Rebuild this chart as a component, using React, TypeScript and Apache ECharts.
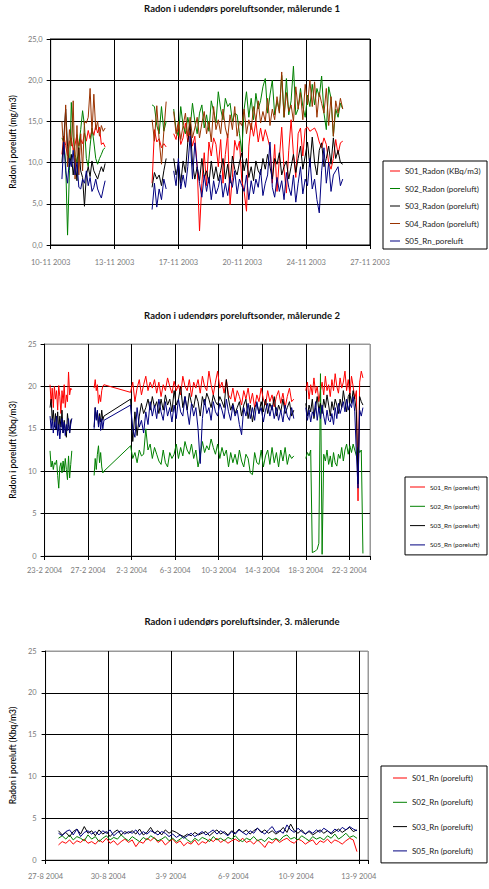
import React, { useEffect, useRef } from 'react';
import * as echarts from 'echarts';

const FONT = 'Lato, "Open Sans", "DejaVu Sans", sans-serif';

const RED = '#ff0000';
const GREEN = '#008000';
const BLACK = '#000000';
const BROWN = '#993300';
const NAVY = '#000080';

// ---------------- Chart 1 ----------------
const c1Title = 'Radon i udendørs poreluftsonder, målerunde 1';
const c1YName = 'Radon i poreluft (mg/m3)';
const c1XLabels = ['10-11 2003', '13-11 2003', '17-11 2003', '20-11 2003', '24-11 2003', '27-11 2003'];
const c1Names = ['S01_Radon (KBq/m3)', 'S02_Radon (poreluft)', 'S03_Radon (poreluft)', 'S04_Radon (poreluft)', 'S05_Rn_poreluft'];
// measurement runs: [first time (days after 10-11 2003), sampling step (days), joined to next run]
const c1Runs: [number, number, boolean][] = [[0.6, 0.1, false], [5.4, 0.125, false], [6.55, 0.125, false]];
const c1S01 = [
  [11.0, 13.2, 12.1, 10.8, 12.5, 13.0, 11.5, 12.2, 13.4, 12.0, 12.8, 12.3, 13.6, 12.6, 13.9, 12.9, 14.1, 13.3, 14.5, 13.6, 14.3, 12.2, 12.4, 11.9],
  [7.5, 14.0, 12.5, 12.9, 11.8, 12.3, 11.9],
  [13.5, 12.8, 14.6, 12.2, 13.0, 14.8, 12.5, 13.8, 12.0, 13.2,
    9.5, 1.7, 7.5, 11.2, 7.2, 12.5, 10.8, 13.0, 12.2, 9.5,
    12.8, 7.5, 11.0, 13.5, 4.9, 8.2, 12.7, 11.5, 12.6, 7.8,
    6.5, 4.1, 12.0, 14.8, 13.2, 15.0, 12.5, 14.2, 12.6, 14.0,
    13.0, 11.8, 7.5, 12.2, 6.5, 10.5, 14.3, 9.2, 6.3, 11.5,
    15.2, 11.0, 8.2, 13.5, 14.2, 10.8, 14.1, 14.3, 13.8, 14.0,
    14.2, 13.6, 12.5, 11.8, 13.0, 12.2, 10.0, 9.2, 10.5, 12.8,
    11.0, 12.4, 12.6],
];
const c1S02 = [
  [13.0, 12.5, 10.0, 1.2, 9.0, 17.3, 13.0, 11.0, 10.0, 12.0, 14.0, 16.3, 14.5, 10.5, 9.5, 12.0, 14.2, 12.5, 10.5, 9.8, 10.5, 11.0, 11.6, 11.8],
  [17.0, 16.8, 14.5, 13.5, 16.8, 13.8, 15.0],
  [16.5, 14.0, 13.2, 16.8, 14.5, 13.5, 15.5, 14.2, 17.2, 15.0,
    13.5, 16.0, 17.0, 14.2, 15.8, 13.8, 17.5, 16.2, 14.8, 18.6,
    16.5, 15.2, 17.8, 16.8, 17.2, 15.0, 16.0, 15.8, 13.5, 11.3,
    16.5, 18.6, 15.5, 17.8, 15.2, 18.4, 16.5, 17.5, 19.2, 20.2,
    16.0, 18.2, 20.0, 15.8, 17.5, 16.2, 20.6, 15.5, 20.2, 15.8,
    17.5, 21.7, 15.8, 16.5, 19.0, 16.8, 15.5, 18.2, 16.8, 19.5,
    17.0, 19.0, 18.0, 20.5, 16.0, 14.0, 19.2, 17.8, 13.2, 16.5,
    15.5, 17.2, 16.5],
];
const c1S03 = [
  [10.0, 13.0, 16.5, 12.0, 9.5, 11.0, 8.5, 10.5, 7.8, 11.8, 9.0, 8.2, 4.7, 8.5, 9.5, 8.3, 10.2, 9.0, 8.5, 8.0, 8.8, 9.5, 8.9, 9.9],
  [7.0, 8.8, 8.0, 8.5, 7.2, 9.0, 10.5],
  [10.5, 8.5, 9.8, 7.5, 10.2, 8.8, 12.5, 14.7, 10.0, 8.0,
    9.5, 7.8, 10.5, 8.2, 9.0, 7.5, 10.2, 8.0, 9.5, 7.8,
    9.0, 10.5, 8.0, 9.8, 7.5, 10.8, 9.2, 8.5, 10.0, 11.2,
    9.0, 10.5, 8.2, 9.5, 7.8, 10.2, 9.0, 8.5, 10.5, 9.2,
    11.0, 9.5, 8.0, 10.5, 9.8, 11.2, 8.5, 9.5, 10.2, 8.0,
    9.5, 11.0, 8.8, 10.5, 12.0, 9.2, 10.8, 12.5, 9.5, 13.1,
    10.0, 8.5, 11.5, 12.4, 9.5, 10.5, 12.0, 9.8, 13.0, 10.5,
    11.5, 10.0, 9.8],
];
const c1S04 = [
  [15.0, 11.0, 17.0, 9.5, 14.0, 12.0, 17.5, 8.0, 14.5, 8.5, 13.5, 9.0, 15.0, 14.8, 15.5, 19.0, 13.5, 18.3, 14.0, 15.0, 13.2, 14.5, 13.8, 14.2],
  [15.2, 12.6, 16.9, 12.8, 9.8, 13.8, 17.4],
  [16.2, 13.5, 15.0, 12.8, 14.5, 16.0, 13.2, 15.5, 13.0, 14.2,
    15.5, 13.0, 14.8, 16.2, 13.5, 15.0, 12.5, 16.8, 14.0, 15.2,
    13.5, 16.5, 14.2, 13.0, 15.8, 14.0, 16.8, 13.2, 15.0, 14.5,
    16.5, 13.5, 15.2, 14.0, 16.8, 15.0, 17.5, 14.8, 16.2, 15.0,
    17.8, 14.5, 16.5, 15.2, 18.0, 16.0, 21.0, 15.5, 18.5, 16.2,
    17.0, 15.0, 19.2, 16.5, 18.5, 15.2, 19.5, 17.0, 20.0, 16.8,
    19.8, 15.5, 18.5, 17.2, 16.0, 19.0, 14.5, 18.0, 13.2, 17.5,
    16.0, 17.8, 16.5],
];
const c1S05 = [
  [8.0, 12.5, 9.0, 7.5, 10.5, 9.5, 11.5, 8.5, 10.0, 7.0, 6.8, 8.0, 7.5, 9.0, 7.2, 8.2, 6.5, 7.0, 8.0, 6.8, 6.2, 5.7, 6.8, 7.8],
  [4.3, 7.5, 4.6, 6.8, 5.5, 8.0, 6.8],
  [9.0, 7.2, 10.5, 6.8, 8.5, 7.0, 9.5, 13.2, 8.0, 12.4,
    9.5, 7.5, 5.8, 8.5, 6.5, 8.2, 5.5, 7.8, 6.2, 7.0,
    8.5, 5.8, 7.5, 6.0, 8.2, 7.0, 9.0, 6.2, 8.0, 7.2,
    6.5, 8.5, 5.5, 7.8, 6.2, 8.0, 7.0, 9.2, 6.0, 7.5,
    8.5, 12.5, 7.0, 5.8, 8.2, 6.5, 7.8, 5.5, 8.8, 7.0,
    6.0, 8.5, 5.2, 7.5, 9.5, 6.2, 8.0, 7.2, 10.5, 6.8,
    8.0, 5.5, 3.9, 9.0, 11.8, 7.5, 10.0, 6.5, 8.5, 9.0,
    9.5, 7.2, 8.0],
];

// ---------------- Chart 2 ----------------
const c2Title = 'Radon i udendørs poreluftsonder, målerunde 2';
const c2YName = 'Radon i poreluft (Kbq/m3)';
const c2XLabels = ['23-2 2004', '27-2 2004', '2-3 2004', '6-3 2004', '10-3 2004', '14-3 2004', '18-3 2004', '22-3 2004'];
const c2Names = ['S01_Rn (poreluft)', 'S02_Rn (poreluft)', 'S03_Rn (poreluft)', 'S05_Rn (poreluft)'];
// days after 23-2 2004
const c2Runs: [number, number, boolean][] = [[0.5, 0.1, false], [4.55, 0.1, true], [7.9, 0.2, false], [24.0, 0.15, false]];
const c2S01 = [
  [20.2, 18.0, 19.8, 17.5, 20.0, 18.5, 19.5, 17.2, 20.1, 18.8, 16.8, 19.5, 18.0, 20.2, 17.5, 19.0, 18.2, 21.7, 19.0, 19.8, 19.6],
  [19.8, 20.8, 19.5, 20.2, 18.0, 19.0, 18.2, 19.5, 20.0, 20.2],
  [19.3, 20.5, 18.2, 19.8, 20.8, 19.0, 20.2, 21.2, 19.5, 20.5,
    19.8, 20.8, 19.2, 20.5, 18.8, 20.2, 19.5, 21.0, 20.0, 19.2,
    20.6, 19.5, 20.2, 19.0, 21.2, 20.0, 19.5, 20.8, 18.8, 20.5,
    19.8, 20.8, 19.2, 21.2, 20.0, 19.5, 21.8, 20.2, 19.0, 20.5,
    21.8, 19.8, 20.5, 19.2, 20.8, 19.0, 18.5, 19.8, 18.2, 19.5,
    18.8, 17.8, 19.5, 18.5, 19.8, 18.0, 19.2, 17.5, 19.0, 18.2,
    19.8, 18.5, 17.8, 19.5, 18.2, 19.0, 17.6, 18.8, 19.5, 18.0,
    19.2, 17.5, 18.8, 19.8, 18.2, 18.5],
  [19.5, 20.5, 18.5, 20.2, 19.0, 21.0, 19.2, 20.0, 18.2, 19.5,
    20.5, 19.0, 21.2, 19.5, 20.2, 18.8, 20.8, 19.5, 21.5, 20.0,
    19.2, 21.0, 19.8, 20.5, 21.8, 19.5, 20.8, 19.0, 21.2, 20.0,
    18.5, 19.5, 6.5, 20.5, 21.8, 21.0],
];
const c2S02 = [
  [12.4, 10.5, 11.2, 10.2, 11.0, 10.8, 11.3, 9.5, 8.0, 10.5, 11.0, 9.8, 11.2, 10.0, 11.5, 10.2, 9.0, 11.8, 9.2, 10.8, 12.4],
  [9.5, 11.5, 10.2, 12.0, 13.0, 11.0, 12.2, 10.5, 9.8, 10.0],
  [13.0, 11.5, 12.2, 11.0, 12.5, 11.8, 12.0, 15.0, 12.5, 13.2,
    11.5, 12.8, 12.0, 11.2, 10.8, 12.5, 11.0, 10.5, 12.2, 11.5,
    12.0, 13.2, 11.5, 12.8, 11.8, 13.5, 12.5, 12.0, 13.2, 11.5,
    12.5, 10.5, 11.8, 13.5, 12.2, 13.0, 12.5, 13.8, 12.8, 12.0,
    13.2, 11.5, 12.8, 11.8, 12.5, 10.5, 12.2, 11.0, 12.0, 10.8,
    12.5, 11.2, 10.5, 12.0, 11.5, 9.8, 9.6, 12.2, 11.0, 10.8,
    12.5, 10.5, 11.8, 12.5, 10.8, 12.8, 11.0, 12.2, 10.5, 12.5,
    11.2, 12.8, 10.8, 12.0, 11.5, 11.8],
  [11.5, 12.2, 11.8, 12.5, 0.4, 0.5, 0.6, 0.8, 1.5, 21.5,
    0.2, 12.0, 11.2, 12.5, 10.8, 11.8, 10.5, 12.2, 11.0, 10.6,
    12.0, 11.5, 12.8, 11.2, 12.5, 13.2, 12.0, 13.0, 12.2, 13.2,
    12.5, 11.8, 12.8, 12.2, 12.5, 0.3],
];
const c2S03 = [
  [17.5, 18.5, 16.0, 17.2, 15.2, 16.8, 15.0, 17.0, 14.8, 16.5, 15.2, 17.2, 14.5, 16.0, 15.0, 14.0, 16.8, 15.5, 14.5, 16.0, 16.2],
  [15.2, 17.5, 16.2, 17.0, 15.5, 16.8, 15.8, 17.2, 16.0, 16.5],
  [18.5, 13.5, 17.0, 14.2, 16.5, 18.0, 16.8, 17.5, 18.5, 17.2,
    18.8, 17.5, 18.2, 16.8, 18.5, 17.2, 19.0, 17.8, 18.5, 17.0,
    19.5, 17.8, 18.5, 20.0, 17.5, 18.8, 17.2, 19.2, 18.0, 17.5,
    19.0, 18.2, 16.5, 18.8, 17.8, 19.2, 18.5, 17.5, 19.0, 18.2,
    17.8, 18.8, 18.2, 17.5, 20.8, 18.5, 17.2, 18.0, 16.8, 17.5,
    18.2, 16.5, 17.8, 18.5, 16.2, 17.8, 15.8, 17.5, 18.0, 16.8,
    18.2, 17.0, 18.5, 16.8, 18.0, 17.2, 18.8, 16.5, 17.8, 17.0,
    18.5, 16.8, 17.5, 18.2, 16.5, 17.2],
  [18.0, 16.5, 17.8, 17.0, 18.5, 16.2, 17.5, 18.8, 17.2, 18.0,
    16.8, 18.5, 17.5, 19.0, 17.8, 16.5, 18.2, 17.2, 18.5, 17.8,
    16.8, 18.5, 17.5, 19.5, 18.2, 17.0, 18.8, 19.2, 18.0, 19.5,
    18.5, 17.0, 8.5, 18.8, 18.2, 17.8],
];
const c2S05 = [
  [16.5, 15.0, 16.2, 14.5, 15.8, 15.0, 16.5, 14.2, 15.5, 13.8, 15.2, 16.2, 14.5, 15.8, 14.2, 15.5, 14.8, 16.2, 14.5, 15.5, 16.2],
  [15.0, 17.5, 16.0, 17.2, 15.2, 16.5, 14.8, 16.2, 15.0, 16.0],
  [17.8, 15.0, 14.0, 17.5, 15.2, 16.0, 14.5, 17.0, 15.5, 18.2,
    16.5, 17.8, 16.2, 18.5, 17.0, 16.0, 18.2, 16.5, 17.5, 15.8,
    17.8, 16.2, 18.5, 17.0, 16.5, 18.8, 17.2, 15.5, 18.0, 16.5,
    17.5, 15.0, 10.9, 16.2, 18.5, 16.8, 17.5, 16.0, 18.2, 17.0,
    16.5, 18.0, 17.2, 16.2, 18.5, 17.0, 16.0, 17.8, 16.5, 17.2,
    15.5, 14.3, 17.5, 16.5, 18.0, 16.2, 17.5, 16.0, 18.2, 16.8,
    17.5, 15.8, 17.2, 18.0, 16.5, 17.8, 16.2, 17.5, 16.0, 17.2,
    15.8, 17.8, 16.5, 16.0, 17.5, 16.2],
  [17.5, 16.0, 17.2, 15.8, 17.0, 16.5, 18.2, 16.0, 17.5, 16.2,
    17.8, 16.5, 15.5, 17.2, 16.0, 15.8, 16.8, 15.5, 17.5, 16.2,
    18.0, 16.8, 17.5, 18.2, 17.0, 18.5, 17.2, 18.0, 17.5, 18.8,
    17.0, 12.0, 8.0, 17.2, 16.5, 17.5],
];

// ---------------- Chart 3 ----------------
const c3Title = 'Radon i udendørs poreluftsinder, 3. målerunde';
const c3YName = 'Radon i poreluft (Kbq/m3)';
const c3XLabels = ['27-8 2004', '30-8 2004', '3-9 2004', '6-9 2004', '10-9 2004', '13-9 2004'];
const c3Names = ['S01_Rn (poreluft)', 'S02_Rn (poreluft)', 'S03_Rn (poreluft)', 'S05_Rn (poreluft)'];
// days after 27-8 2004
const c3Runs: [number, number, boolean][] = [[0.7, 0.2, false]];
const c3S01 = [[
  1.8, 2.2, 2.0, 2.4, 1.9, 2.3, 2.1, 2.5, 2.0, 2.2,
  1.9, 2.4, 2.1, 2.6, 2.0, 2.3, 1.8, 2.2, 2.5, 2.1,
  2.4, 1.6, 2.2, 2.0, 2.6, 2.3, 2.7, 2.1, 2.4, 1.8,
  2.2, 2.5, 2.0, 2.3, 1.7, 2.1, 1.9, 2.4, 1.8, 2.2,
  2.0, 2.5, 2.2, 2.6, 2.1, 2.4, 2.0, 2.3, 2.5, 2.2,
  2.6, 2.1, 2.3, 1.9, 2.4, 2.0, 1.5, 2.2, 2.0, 2.5,
  2.1, 2.4, 2.6, 2.2, 2.0, 2.5, 2.3, 1.9, 2.2, 2.4,
  1.8, 2.3, 2.1, 2.5, 2.0, 2.4, 2.2, 1.9, 2.3, 2.6,
  2.4, 1.0]];
const c3S02 = [[
  2.6, 2.9, 2.5, 3.0, 2.4, 2.8, 2.6, 2.3, 3.0, 2.5,
  2.8, 2.2, 2.6, 2.9, 2.4, 2.7, 2.5, 3.0, 2.6, 2.3,
  2.8, 2.5, 2.2, 2.7, 2.4, 2.9, 2.6, 2.3, 2.5, 2.8,
  2.3, 2.6, 2.2, 2.5, 2.8, 2.4, 2.1, 2.6, 2.3, 2.7,
  2.5, 2.2, 2.8, 2.4, 2.6, 2.3, 2.7, 2.5, 2.9, 2.4,
  2.2, 2.6, 2.4, 2.8, 2.3, 2.5, 2.2, 2.7, 2.4, 2.6,
  2.3, 2.8, 3.0, 2.5, 2.7, 2.4, 2.9, 2.6, 2.3, 2.8,
  2.5, 2.7, 2.4, 2.9, 2.6, 3.1, 2.5, 2.8, 3.2, 2.7,
  2.9, 2.6]];
const c3S03 = [[
  3.5, 3.0, 3.3, 2.8, 3.4, 3.7, 3.1, 4.0, 3.2, 3.5,
  2.9, 3.6, 3.1, 3.4, 2.8, 3.3, 3.6, 3.0, 3.4, 3.2,
  3.5, 3.1, 3.7, 3.0, 3.3, 3.9, 3.2, 3.5, 3.0, 3.6,
  3.2, 3.5, 3.3, 3.0, 2.8, 3.1, 2.9, 3.3, 3.0, 3.2,
  3.4, 2.9, 3.3, 3.6, 3.1, 3.4, 3.0, 3.5, 3.2, 3.7,
  3.3, 3.6, 3.1, 3.5, 3.8, 3.3, 3.6, 3.2, 3.5, 3.1,
  3.4, 3.9, 3.3, 4.3, 3.5, 3.2, 3.6, 3.1, 3.4, 3.0,
  3.3, 3.6, 3.2, 3.5, 3.1, 3.4, 3.7, 3.3, 3.6, 3.9,
  3.4, 3.6]];
const c3S05 = [[
  3.2, 2.9, 3.4, 3.6, 3.0, 3.7, 2.8, 3.3, 3.5, 3.1,
  3.4, 3.0, 3.5, 3.2, 3.6, 2.9, 3.3, 3.5, 3.1, 3.4,
  3.2, 3.6, 3.0, 3.4, 3.1, 3.5, 3.3, 3.0, 3.4, 3.2,
  2.8, 3.1, 2.7, 3.0, 2.6, 2.9, 3.2, 2.8, 3.1, 3.4,
  3.0, 3.3, 3.6, 3.1, 3.5, 3.2, 2.9, 3.4, 3.1, 3.6,
  3.3, 3.0, 3.5, 3.2, 3.8, 3.4, 3.1, 3.6, 4.0, 3.3,
  3.5, 3.2, 4.2, 3.6, 3.3, 3.8, 3.4, 3.1, 3.5, 3.2,
  3.6, 3.3, 3.8, 3.5, 3.2, 3.7, 3.4, 3.9, 3.6, 4.0,
  3.7, 3.5]];

const yTicks = [0, 5, 10, 15, 20, 25];

function buildData(runs: [number, number, boolean][], segs: number[][]) {
  const out: (number | string)[][] = [];
  segs.forEach((vals, si) => {
    const [start, step, joined] = runs[si];
    vals.forEach((v, i) => out.push([+(start + i * step).toFixed(4), v]));
    if (!joined && si < segs.length - 1) {
      out.push([+(start + vals.length * step).toFixed(4), '-']);
    }
  });
  return out;
}

function xFormatter(labels: string[], interval: number) {
  return (v: number) => {
    const k = Math.round(v / interval);
    return Math.abs(v - k * interval) < 1e-6 && labels[k] !== undefined ? labels[k] : '';
  };
}

const tickLabelStyle = { color: '#7a7a7a', fontSize: 7.5, fontFamily: FONT };

function makeX(gridIndex: number, max: number, interval: number, labels: string[], margin: number, splitColors: string[]) {
  return {
    type: 'value', gridIndex, min: 0, max, interval,
    axisLine: { show: true, onZero: false, lineStyle: { color: '#000', width: 1 } },
    axisTick: { show: true, length: 4, lineStyle: { color: '#000' } },
    axisLabel: { ...tickLabelStyle, margin, formatter: xFormatter(labels, interval), showMaxLabel: true, showMinLabel: true },
    splitLine: { show: true, lineStyle: { color: splitColors, width: 1 } },
  };
}

function makeY(gridIndex: number, name: string, nameGap: number, fmt: (v: number) => string, margin: number, splitColors: string[]) {
  return {
    type: 'value', gridIndex, min: 0, max: 25, interval: 5,
    name, nameLocation: 'middle', nameGap,
    nameTextStyle: { color: '#000', fontSize: 8.5, fontFamily: FONT, fontWeight: 500 },
    axisLine: { show: true, onZero: false, lineStyle: { color: '#000', width: 1 } },
    axisTick: { show: true, length: 4, lineStyle: { color: '#000' } },
    axisLabel: { ...tickLabelStyle, margin, formatter: fmt },
    splitLine: { show: true, lineStyle: { color: splitColors, width: 1 } },
  };
}

function makeSeries(names: string[], colors: string[], segsList: number[][][], runs: [number, number, boolean][], idx: number) {
  return names.map((name, i) => ({
    type: 'line', name, xAxisIndex: idx, yAxisIndex: idx,
    data: buildData(runs, segsList[i]),
    showSymbol: false, symbol: 'none', connectNulls: false, silent: true,
    lineStyle: { color: colors[i], width: 1 },
    itemStyle: { color: colors[i] },
    emphasis: { disabled: true },
  }));
}

function makeLegend(names: string[], left: number, top: number, fontSize: number, lineHeight: number, itemGap: number, itemWidth: number, textWidth: number, padding: number[]) {
  return {
    show: true, data: names, orient: 'vertical', left, top, itemGap, itemWidth, itemHeight: 1,
    icon: 'rect', padding, borderColor: '#000', borderWidth: 1, backgroundColor: '#fff',
    selectedMode: false,
    textStyle: { color: '#222', fontSize, lineHeight, fontFamily: FONT, width: textWidth, overflow: 'none' },
  };
}

const titleStyle = { color: '#111', fontSize: 9.5, fontWeight: 'bold', fontFamily: FONT };

const option = {
  animation: false,
  backgroundColor: '#fff',
  title: [
    { text: c1Title, left: 242, top: 3, textAlign: 'center', padding: 0, textStyle: titleStyle },
    { text: c2Title, left: 242, top: 310, textAlign: 'center', padding: 0, textStyle: titleStyle },
    { text: c3Title, left: 242, top: 616, textAlign: 'center', padding: 0, textStyle: titleStyle },
  ],
  grid: [
    { left: 45, top: 39, width: 325, height: 206, show: true, borderColor: '#000', borderWidth: 1, backgroundColor: 'transparent' },
    { left: 35, top: 344, width: 335, height: 212, show: true, borderColor: '#999', borderWidth: 1, backgroundColor: 'transparent' },
    { left: 37, top: 651, width: 331, height: 209, show: true, borderColor: '#999', borderWidth: 1, backgroundColor: 'transparent' },
  ],
  xAxis: [
    makeX(0, 17, 3.4, c1XLabels, 13, ['#000']),
    makeX(1, 29.9, 4, c2XLabels, 10, ['#000', '#000', '#000', '#000', '#000', '#000', '#000', '#000', '#999']),
    makeX(2, 17.5, 3.4, c3XLabels, 12, ['#000', '#000', '#000', '#000', '#000', '#000', '#999']),
  ],
  yAxis: [
    makeY(0, c1YName, 30, (v: number) => v.toFixed(1).replace('.', ','), 8, ['#000']),
    makeY(1, c2YName, 24, (v: number) => String(v), 8, ['#000', '#000', '#000', '#000', '#000', '#999']),
    makeY(2, c3YName, 26, (v: number) => String(v), 9, ['#000', '#000', '#000', '#000', '#000', '#999']),
  ],
  legend: [
    makeLegend(c1Names, 383, 161, 8, 10, 7.5, 10, 79, [5, 3, 3, 7]),
    makeLegend(c2Names, 405, 477, 6.5, 8, 11.3, 15, 55, [6, 2, 6, 5]),
    makeLegend(c3Names, 381, 766, 8, 10, 14.3, 14, 71, [7, 4, 7, 12]),
  ],
  series: [
    ...makeSeries(c1Names, [RED, GREEN, BLACK, BROWN, NAVY], [c1S01, c1S02, c1S03, c1S04, c1S05], c1Runs, 0),
    ...makeSeries(c2Names.map((n) => n), [RED, GREEN, BLACK, NAVY], [c2S01, c2S02, c2S03, c2S05], c2Runs, 1),
    ...makeSeries(c3Names, [RED, GREEN, BLACK, NAVY], [c3S01, c3S02, c3S03, c3S05], c3Runs, 2),
  ],
};

export default function App() {
  const ref = useRef<HTMLDivElement>(null);
  useEffect(() => {
    document.body.style.margin = '0';
    const chart = echarts.init(ref.current as HTMLDivElement, null, { renderer: 'svg' });
    chart.setOption(option as any);
    return () => chart.dispose();
  }, []);
  return <div ref={ref} style={{ width: 489, height: 889 }} />;
}
